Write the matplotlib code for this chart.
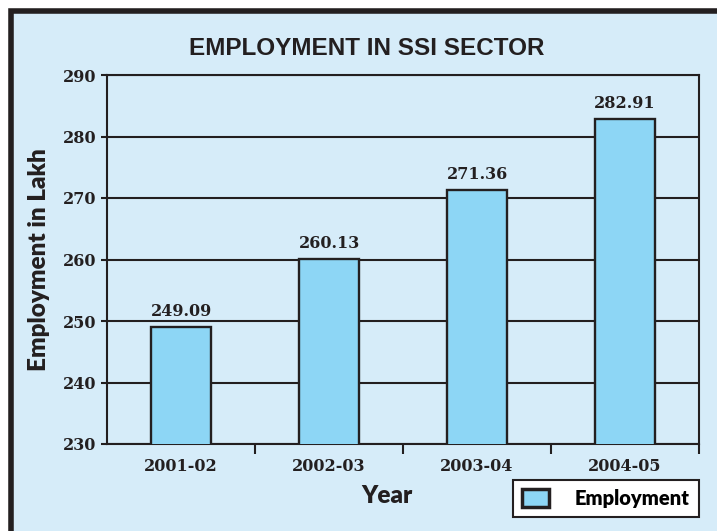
import matplotlib.pyplot as plt
from matplotlib.patches import Rectangle
from matplotlib import font_manager

years = ["2001-02", "2002-03", "2003-04", "2004-05"]
employment = [249.09, 260.13, 271.36, 282.91]
yticks = [230, 240, 250, 260, 270, 280, 290]

BG = "#d6ecf9"
BAR = "#8dd6f5"
DARK = "#231f20"

names = {f.name for f in font_manager.fontManager.ttflist}
title_font = "Liberation Sans Narrow" if "Liberation Sans Narrow" in names else "Liberation Sans"
serif_font = "DejaVu Serif"
sans_font = "Lato"

fig = plt.figure(figsize=(7.17, 5.31), dpi=100)
fig.patch.set_facecolor("white")

# framed light-blue panel, border runs off the right and bottom edges
W, H = 717, 531
fig.patches.append(Rectangle((10.5 / W, -0.05), 1.1, 1 - 10.5 / H + 0.05,
                             transform=fig.transFigure, facecolor=BG,
                             edgecolor=DARK, linewidth=4, zorder=-5))

ax = fig.add_axes([107 / W, 1 - 444 / H, 592 / W, 369 / H])
ax.set_facecolor(BG)
x = range(len(years))
bars = ax.bar(x, employment, width=0.4, bottom=0, color=BAR, edgecolor=DARK,
              linewidth=1.7, label="Employment", zorder=3)

for xi, v in zip(x, employment):
    ax.text(xi, v + 1.1, f"{v:.2f}", ha="center", va="bottom",
            fontsize=11.5, fontweight="bold", family=serif_font, color=DARK)

ax.set_ylim(230, 290)
ax.set_xlim(-0.5, len(years) - 0.5)
ax.set_yticks(yticks)
ax.set_yticklabels([str(t) for t in yticks], fontsize=11.5, fontweight="bold",
                   family=serif_font, color=DARK)
ax.set_xticks(list(x))
ax.set_xticklabels(years, fontsize=11.5, fontweight="bold", family=serif_font, color=DARK)
ax.set_xticks([i + 0.5 for i in range(len(years))], minor=True)
ax.tick_params(axis="x", which="major", length=0, pad=10)
ax.tick_params(axis="x", which="minor", length=7, width=1.5, color=DARK, direction="out")
ax.tick_params(axis="y", length=4.5, width=1.5, color=DARK, pad=3)

ax.grid(axis="y", color=DARK, linewidth=1.5, zorder=1)
ax.set_axisbelow(True)
for s in ax.spines.values():
    s.set_linewidth(1.5)
    s.set_color(DARK)

ax.set_ylabel("Employment in Lakh", fontsize=17.5, fontweight="heavy",
              family=sans_font, color=DARK)
ax.yaxis.set_label_coords((50 - 107) / 592, 0.5)
ax.set_xlabel("Year", fontsize=17.5, fontweight="heavy", family=sans_font, color=DARK)
ax.xaxis.set_label_coords((387 - 107) / 592, -(485 - 444) / 369)

fig.text(367 / W, 1 - 48 / H, "EMPLOYMENT IN SSI SECTOR", ha="center", va="center",
         fontsize=17.5, fontweight="bold", family=title_font, color=DARK)

leg = ax.legend(loc="lower right", bbox_to_anchor=(699 / W, 14 / H),
                bbox_transform=fig.transFigure, borderaxespad=0, fancybox=False,
                framealpha=1, edgecolor=DARK, handlelength=1.35, handleheight=1.0,
                prop={"family": sans_font, "weight": "heavy", "size": 14.5},
                borderpad=0.45, handletextpad=1.3)
leg.get_frame().set_linewidth(1.5)
leg.legend_handles[0].set_linewidth(2.5)

fig.savefig("out.png", dpi=100)
